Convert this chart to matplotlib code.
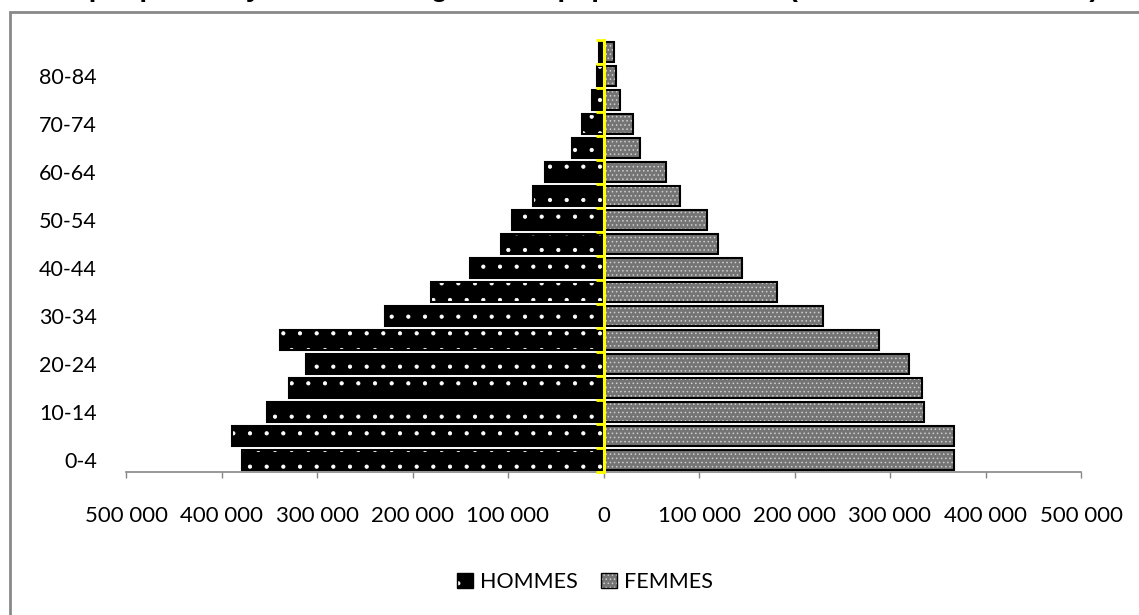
import numpy as np
import matplotlib.pyplot as plt
from matplotlib.patches import Patch, Rectangle
from matplotlib.legend_handler import HandlerTuple

plt.rcParams['font.family'] = ['Lato', 'DejaVu Sans']
plt.rcParams['hatch.linewidth'] = 0.6

# age groups, bottom to top
ages = ["0-4", "5-9", "10-14", "15-19", "20-24", "25-29", "30-34", "35-39",
        "40-44", "45-49", "50-54", "55-59", "60-64", "65-69", "70-74",
        "75-79", "80-84", "85+"]
hommes = [379000, 388500, 352000, 329000, 311000, 339000, 229000, 181000,
          140000, 107000, 96000, 74000, 61000, 33500, 23000, 12500, 7300, 5200]
femmes = [366500, 366500, 336000, 333000, 320000, 288000, 230000, 182000,
          145500, 120000, 108000, 80600, 65000, 38700, 31400, 17800, 12600, 10500]
xticks = [-500000, -400000, -300000, -200000, -100000, 0,
          100000, 200000, 300000, 400000, 500000]
title = "Graphique 1 : Pyramide des âges de la population totale (ensemble du territoire)"

fig = plt.figure(figsize=(11.39, 6.15), dpi=100)
ax = fig.add_axes([126 / 1139, 1 - 472 / 615, 955 / 1139, 432 / 615])

y = np.arange(len(ages))
h = 0.84
men = -np.array(hommes)
women = np.array(femmes)

# bars: pattern layer + black outline layer
ax.barh(y, men, height=h, color="black", edgecolor="white", hatch=".", linewidth=0)
ax.barh(y, men, height=h, fill=False, edgecolor="black", linewidth=1.5)
ax.barh(y, women, height=h, color="#747474", edgecolor="#cfcfcf", hatch="....", linewidth=0)
ax.barh(y, women, height=h, fill=False, edgecolor="black", linewidth=1.5)

ax.set_xlim(-500000, 500000)
ax.set_ylim(-0.5, len(ages) - 0.5)

ax.set_xticks(xticks)
ax.set_xticklabels([f"{abs(v):,}".replace(",", " ") for v in xticks])
ax.set_yticks(y[::2])
ax.set_yticklabels(ages[::2])
ax.tick_params(axis="x", length=4.5, color="#868686", width=1, pad=20, labelsize=16)
ax.tick_params(axis="y", length=0, pad=21, labelsize=15.5)

for s in ["top", "right", "left"]:
    ax.spines[s].set_visible(False)
ax.spines["bottom"].set_color("#868686")
ax.spines["bottom"].set_linewidth(1.2)

# yellow vertical axis at zero with ticks at category boundaries
sec = ax.secondary_yaxis(0.5)
sec.set_yticks(np.arange(len(ages) + 1) - 0.5)
sec.set_yticklabels([])
sec.tick_params(axis="y", direction="in", length=5.5, width=2, color="#FFFF00",
                labelleft=False, labelright=False)
for s in sec.spines.values():
    s.set_color("#FFFF00")
    s.set_linewidth(2.2)
sec.set_zorder(5)

# legend
h_men = (Patch(facecolor="black", edgecolor="white", hatch=".", linewidth=0),
         Patch(fill=False, edgecolor="black", linewidth=1))
h_women = (Patch(facecolor="#747474", edgecolor="#cfcfcf", hatch="....", linewidth=0),
           Patch(fill=False, edgecolor="black", linewidth=1))
fig.legend([h_men, h_women], ["HOMMES", "FEMMES"],
           handler_map={tuple: HandlerTuple(ndivide=1)},
           loc="center", bbox_to_anchor=(585 / 1139, 1 - 582 / 615), ncol=2,
           frameon=False, fontsize=15.5, handlelength=0.75, handleheight=0.75,
           handletextpad=0.3, columnspacing=1.1)

# title, clipped at top like the original (only the descenders show)
fig.text(0.5, 1 + 4.5 / 615, title, ha="center", va="baseline",
         fontsize=20, fontweight="bold", family=["Liberation Sans", "DejaVu Sans"])

# chart area border
fig.add_artist(Rectangle((10 / 1139, -0.1), 1.2, 1.1 - 12 / 615,
                         transform=fig.transFigure, fill=False,
                         edgecolor="#898989", linewidth=2))

plt.savefig("out.png", dpi=100)
plt.close()
